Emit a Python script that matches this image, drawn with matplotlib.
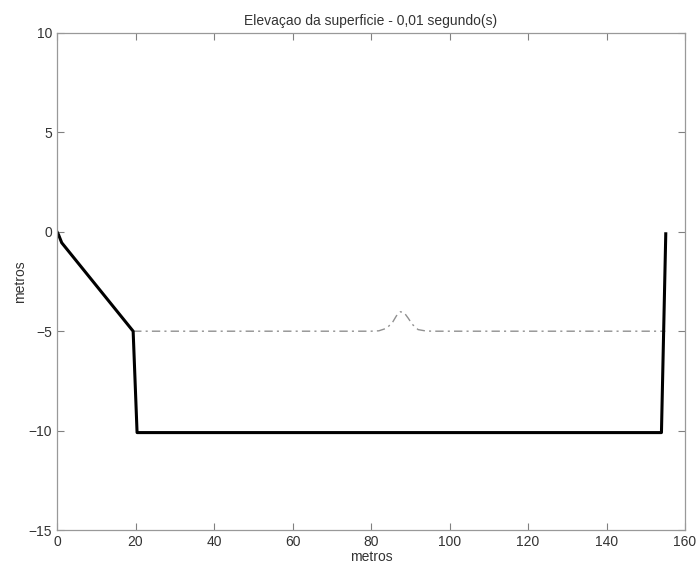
import matplotlib.pyplot as plt

plt.rcParams['font.family'] = ['Liberation Sans', 'DejaVu Sans']

# bathymetry (fundo)
fundo_x = [0.0, 0.4, 1.2, 19.4, 20.4, 154.0, 155.1]
fundo_y = [0.0, -0.15, -0.55, -5.0, -10.1, -10.1, -0.1]

# superficie livre
sup_x = [19.4, 80.0, 82.0, 84.0, 85.5, 86.5, 87.5, 88.5, 89.5, 90.5, 92.0, 94.0, 96.0, 155.0]
sup_y = [-5.0, -5.0, -4.98, -4.85, -4.55, -4.22, -4.02, -4.08, -4.35, -4.65, -4.92, -4.99, -5.0, -5.0]

xticks = [0, 20, 40, 60, 80, 100, 120, 140, 160]
yticks = [-15, -10, -5, 0, 5, 10]

fig = plt.figure(figsize=(6.97, 5.67), dpi=100)
ax = fig.add_axes([57 / 697, 37 / 567, 628 / 697, 497 / 567])

ax.plot(sup_x, sup_y, color='#909090', linestyle=(0, (6, 3, 1.5, 3)), linewidth=1.0)
ax.plot(fundo_x, fundo_y, color='black', linewidth=2.2)

ax.set_xlim(0, 160)
ax.set_ylim(-15, 10)
ax.set_xticks(xticks)
ax.set_yticks(yticks)

ax.tick_params(direction='in', top=True, right=True, length=5,
               color='#808080', labelcolor='#333333', labelsize=10)
for s in ax.spines.values():
    s.set_color('#999999')
    s.set_linewidth(0.9)

ax.set_title('Elevaçao da superficie - 0,01 segundo(s)', fontsize=10,
             color='#333333', pad=6)
ax.set_xlabel('metros', fontsize=10, color='#333333', labelpad=1)
ax.set_ylabel('metros', fontsize=10, color='#333333', labelpad=1)

fig.savefig('out.png', dpi=100)
